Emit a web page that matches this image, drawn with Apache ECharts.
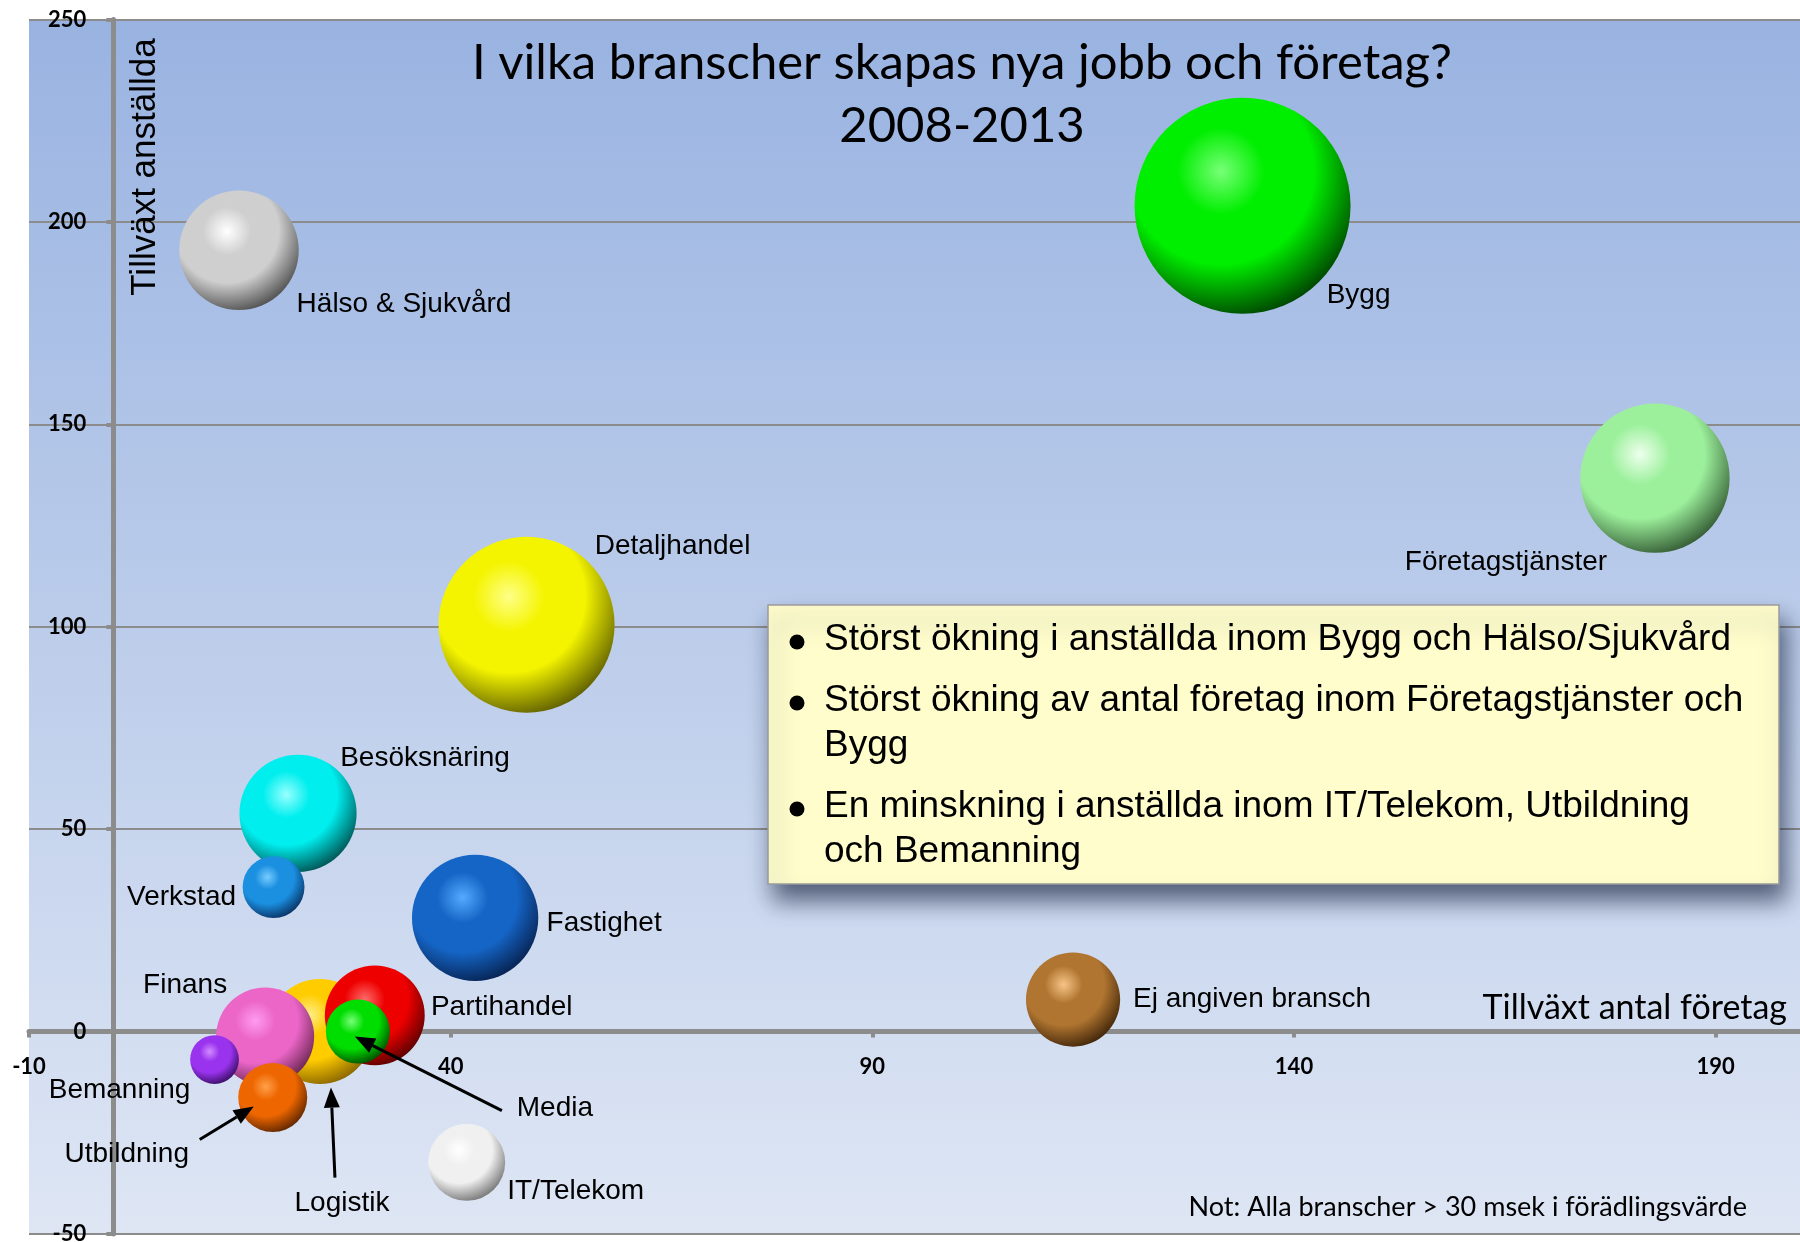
<!DOCTYPE html>
<html><head><meta charset="utf-8">
<script src="https://cdn.jsdelivr.net/npm/echarts@6/dist/echarts.min.js"></script>
<style>html,body{margin:0;padding:0;background:#fff}#c{width:1800px;height:1242px}</style>
</head><body><div id="c"></div>
<script>
// ---- data ----
const names = ['Hälso & Sjukvård','Bygg','Företagstjänster','Detaljhandel','Besöksnäring','Fastighet','Verkstad','Ej angiven bransch','IT/Telekom','Logistik','Finans','Partihandel','Media','Bemanning','Utbildning'];
const growthCompanies = [14.9, 133.9, 182.8, 49.0, 21.9, 42.9, 19.0, 113.8, 41.9, 24.5, 18.0, 31.0, 29.0, 12.0, 18.9];
const growthEmployees = [193, 204, 136.7, 100.5, 53.9, 28.1, 35.7, 7.9, -32.3, 0, -1.2, 4.0, 0, -6.9, -16.3];
const bubbleSize = [30.6, 100, 47.8, 66.4, 29.4, 34.2, 8.2, 19, 12.7, 23.6, 20.6, 21.4, 8.8, 5.1, 10.2];
const xMin = -10, xMax = 200, xInterval = 50;
const yMin = -50, yMax = 250, yInterval = 50;
const titleLines = ['I vilka branscher skapas nya jobb och företag?', '2008-2013'];
const yAxisTitle = 'Tillväxt anställda';
const xAxisTitle = 'Tillväxt antal företag';
const noteText = 'Not: Alla branscher > 30 msek i förädlingsvärde';
const bullets = [
  ['Störst ökning i anställda inom Bygg och Hälso/Sjukvård'],
  ['Störst ökning av antal företag inom Företagstjänster och', 'Bygg'],
  ['En minskning i anställda inom IT/Telekom, Utbildning', 'och Bemanning']
];

// ---- styles ----
const sphereColors = {
  'Hälso & Sjukvård': ['#ffffff', '#cfcfcf', '#444444'],
  'Bygg': ['#77ff77', '#00ee00', '#003300'],
  'Företagstjänster': ['#eeffee', '#9cf09c', '#2a4d2a'],
  'Detaljhandel': ['#ffff88', '#f4f400', '#505000'],
  'Besöksnäring': ['#99ffff', '#00eeee', '#004444'],
  'Verkstad': ['#77ccff', '#1b8fe0', '#072a58'],
  'Fastighet': ['#55aaff', '#1565c6', '#051c46'],
  'Ej angiven bransch': ['#f7c487', '#b07530', '#361e06'],
  'IT/Telekom': ['#ffffff', '#f0f0f0', '#6a6a6a'],
  'Logistik': ['#ffee88', '#ffcc00', '#7e5c00'],
  'Finans': ['#ff9cf0', '#ec66c8', '#5e2046'],
  'Partihandel': ['#ff6b6b', '#ee0000', '#4c0000'],
  'Media': ['#77ff77', '#00dd00', '#004000'],
  'Bemanning': ['#d18cff', '#9a33ee', '#300a58'],
  'Utbildning': ['#ffa04a', '#ee6600', '#502000']
};
const labelOffset = {
  'Hälso & Sjukvård': [165, 54], 'Bygg': [116, 90], 'Företagstjänster': [-149, 84],
  'Detaljhandel': [146, -78], 'Besöksnäring': [127, -55], 'Verkstad': [-92, 10],
  'Fastighet': [129, 5], 'Ej angiven bransch': [179, 0], 'IT/Telekom': [109, 29],
  'Logistik': [22, 172], 'Finans': [-80, -51], 'Partihandel': [127, -8],
  'Media': [197, 77], 'Bemanning': [-95, 31], 'Utbildning': [-146, 57]
};
const arrows = [
  {name: 'Media', from: [144, 79], to: [-3, 5]},
  {name: 'Logistik', from: [15, 146], to: [11, 56]},
  {name: 'Utbildning', from: [-73, 42], to: [-19, 9]}
];
function sphere(c) {
  return {type: 'radial', x: 0.4, y: 0.34, r: 0.72,
    colorStops: [{offset: 0, color: c[0]}, {offset: 0.28, color: c[1]}, {offset: 0.6, color: c[1]}, {offset: 1, color: c[2]}]};
}
const GRAY = '#8c8c8c';
const W = 1800, H = 1242;
const gridBox = {left: 29, right: 0, top: 19.5, bottom: 8};
const gridW = W - gridBox.left - gridBox.right, gridH = H - gridBox.top - gridBox.bottom;

const chart = echarts.init(document.getElementById('c'), null, {renderer: 'canvas'});
chart.setOption({
  animation: false,
  grid: Object.assign({}, gridBox, {show: true, borderWidth: 0, containLabel: false, outerBoundsMode: 'none',
    backgroundColor: new echarts.graphic.LinearGradient(0, 0, 0, 1, [{offset: 0, color: '#99b3e1'}, {offset: 1, color: '#dee6f4'}])}),
  xAxis: {type: 'value', min: xMin, max: xMax, interval: xInterval, position: 'bottom',
    offset: -gridH * (0 - yMin) / (yMax - yMin),
    axisLine: {onZero: false, lineStyle: {color: GRAY, width: 5}},
    axisTick: {show: true, length: 6, lineStyle: {color: GRAY, width: 4}},
    axisLabel: {showMaxLabel: false, margin: 24, color: '#000', fontFamily: 'Lato', fontWeight: 'bold', fontSize: 22},
    splitLine: {show: false}},
  yAxis: {type: 'value', min: yMin, max: yMax, interval: yInterval, position: 'left',
    offset: -gridW * (0 - xMin) / (xMax - xMin),
    axisLine: {onZero: false, lineStyle: {color: GRAY, width: 5}},
    axisTick: {show: true, length: 7, lineStyle: {color: GRAY, width: 4}},
    axisLabel: {margin: 27, color: '#000', fontFamily: 'Lato', fontWeight: 'bold', fontSize: 22},
    splitLine: {show: true, lineStyle: {color: GRAY, width: 2}}},
  series: [{
    type: 'scatter', silent: true,
    emphasis: {disabled: true},
    symbolSize: v => 21.6 * Math.sqrt(v[2]),
    data: names.map((n, i) => ({
      name: n, value: [growthCompanies[i], growthEmployees[i], bubbleSize[i]],
      itemStyle: {color: sphere(sphereColors[n]), opacity: 1},
      label: {offset: labelOffset[n]}
    })),
    label: {show: true, position: 'inside', formatter: '{b}', color: '#000',
      fontFamily: 'Liberation Sans', fontSize: 28, align: 'center', verticalAlign: 'middle'}
  }]
});

const g = [];
// title
titleLines.forEach((t, i) => g.push({type: 'text', id: 'title' + i, x: 962, y: 63 + i * 63, z: 60,
  style: {text: t, fill: '#000', font: '49px Lato', textAlign: 'center', textVerticalAlign: 'middle'}}));
// axis titles
g.push({type: 'text', id: 'ytitle', x: 145, y: 167, rotation: Math.PI / 2, z: 60,
  style: {text: yAxisTitle, fill: '#000', font: '35px "Liberation Sans"', textAlign: 'center', textVerticalAlign: 'middle'}});
g.push({type: 'text', id: 'xtitle', x: 1787, y: 1008, z: 60,
  style: {text: xAxisTitle, fill: '#000', font: '34px Lato', textAlign: 'right', textVerticalAlign: 'middle'}});
g.push({type: 'text', id: 'note', x: 1747, y: 1207, z: 60,
  style: {text: noteText, fill: '#000', font: '27px Lato', textAlign: 'right', textVerticalAlign: 'middle'}});
// text box
g.push({type: 'rect', id: 'box', z: 50, shape: {x: 768, y: 605, width: 1011, height: 279},
  style: {fill: '#fffdcc', stroke: '#9a9a9a', lineWidth: 1.5, shadowBlur: 22, shadowColor: 'rgba(20,30,60,0.65)', shadowOffsetX: 6, shadowOffsetY: 16}});
let ly = 640, k = 0;
bullets.forEach((b, bi) => {
  g.push({type: 'circle', id: 'dot' + bi, z: 55, shape: {cx: 797, cy: ly + 2, r: 7.5}, style: {fill: '#000'}});
  b.forEach((line, li) => {
    g.push({type: 'text', id: 'bl' + (k++), x: 824, y: ly, z: 55,
      style: {text: line, fill: '#000', font: '37px "Liberation Sans"', textAlign: 'left', textVerticalAlign: 'middle'}});
    ly += (li < b.length - 1) ? 45 : 61;
  });
});
// arrows
arrows.forEach((a, ai) => {
  const i = names.indexOf(a.name);
  const c = chart.convertToPixel({gridIndex: 0}, [growthCompanies[i], growthEmployees[i]]);
  const x1 = c[0] + a.from[0], y1 = c[1] + a.from[1], x2 = c[0] + a.to[0], y2 = c[1] + a.to[1];
  const ang = Math.atan2(y2 - y1, x2 - x1), L = 20, HW = 8;
  const bx = x2 - L * Math.cos(ang), by = y2 - L * Math.sin(ang);
  g.push({type: 'line', id: 'al' + ai, z: 70, shape: {x1, y1, x2: bx, y2: by}, style: {stroke: '#000', lineWidth: 3}});
  g.push({type: 'polygon', id: 'ah' + ai, z: 70, shape: {points: [[x2, y2], [bx + HW * Math.sin(ang), by - HW * Math.cos(ang)], [bx - HW * Math.sin(ang), by + HW * Math.cos(ang)]]}, style: {fill: '#000'}});
});
chart.setOption({graphic: g});
</script></body></html>
